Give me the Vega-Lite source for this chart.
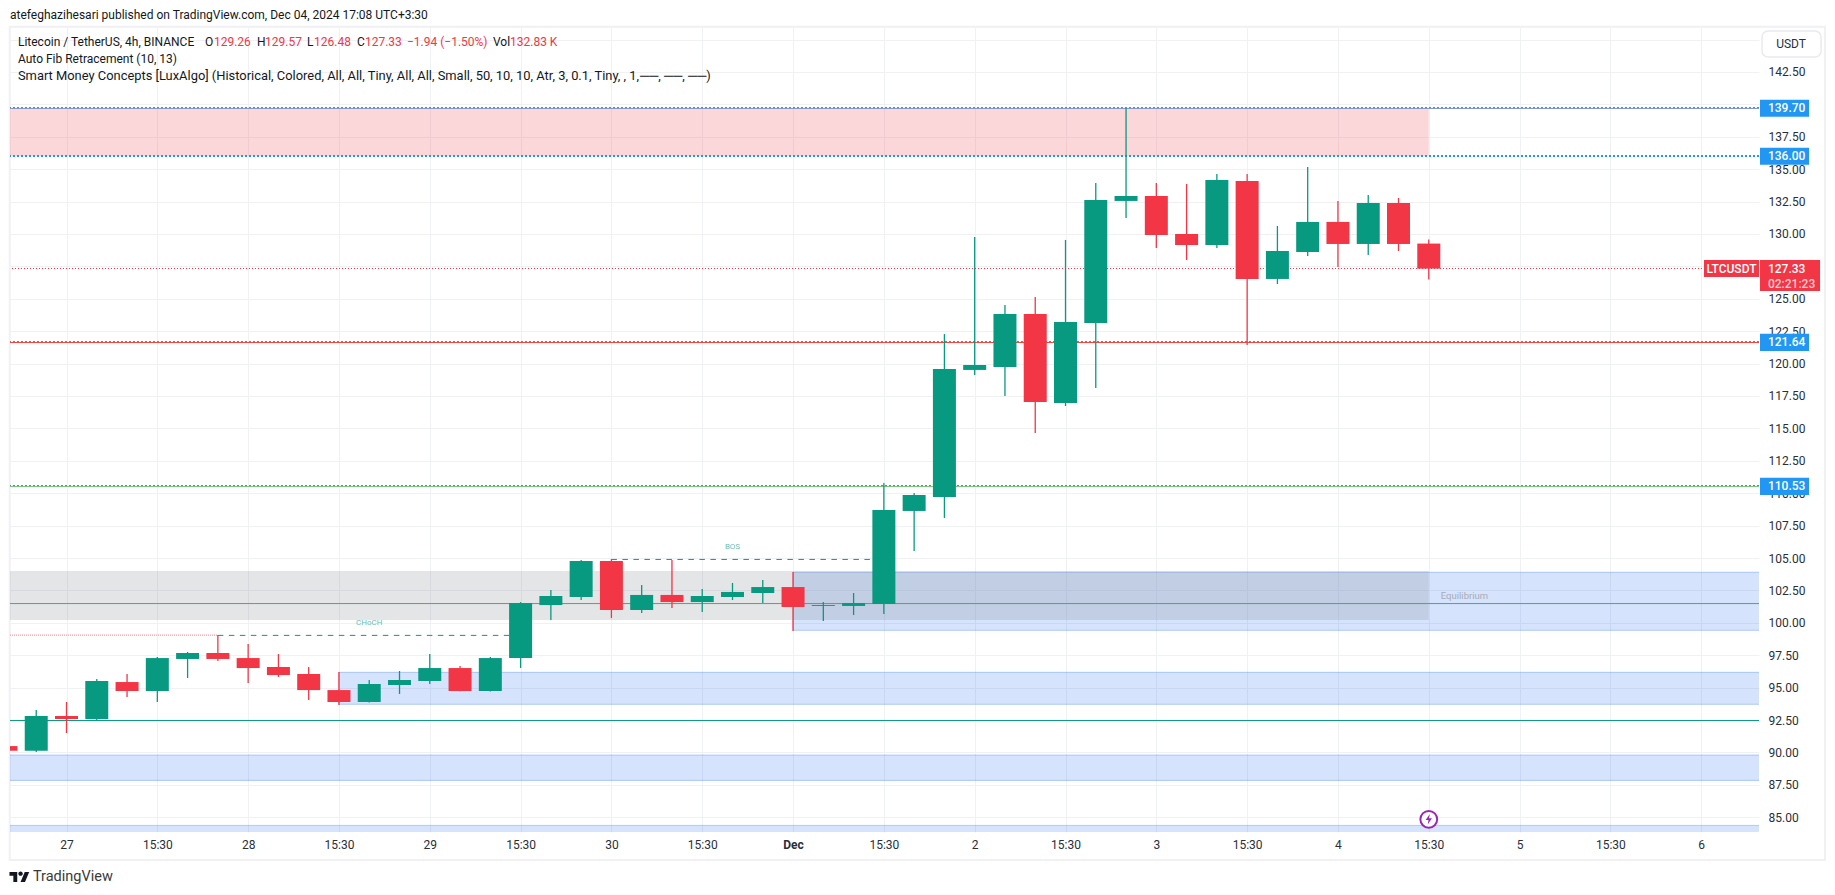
{
"$schema":"https://vega.github.io/schema/vega-lite/v6.json",
"width":1749,"height":805,
"autosize":"none",
"padding":{"left":10,"top":27,"right":76,"bottom":63},
"background":"white",
"view":{"stroke":null},
"config":{"font":"Roboto"},
"resolve":{"scale":{"fill":"independent","stroke":"independent"}},
"datasets":{
"candles":[
{"t":"2024-11-26T19:30:00Z","o":90.49,"h":90.6,"l":90.0,"c":90.13},
{"t":"2024-11-26T23:30:00Z","o":90.13,"h":93.27,"l":90.03,"c":92.81},
{"t":"2024-11-27T03:30:00Z","o":92.81,"h":93.89,"l":91.5,"c":92.58},
{"t":"2024-11-27T07:30:00Z","o":92.58,"h":95.66,"l":92.5,"c":95.51},
{"t":"2024-11-27T11:30:00Z","o":95.43,"h":96.05,"l":94.27,"c":94.74},
{"t":"2024-11-27T15:30:00Z","o":94.74,"h":97.36,"l":93.89,"c":97.28},
{"t":"2024-11-27T19:30:00Z","o":97.21,"h":97.75,"l":95.74,"c":97.67},
{"t":"2024-11-27T23:30:00Z","o":97.67,"h":99.06,"l":97.05,"c":97.21},
{"t":"2024-11-28T03:30:00Z","o":97.28,"h":98.36,"l":95.35,"c":96.51},
{"t":"2024-11-28T07:30:00Z","o":96.59,"h":97.59,"l":95.82,"c":95.97},
{"t":"2024-11-28T11:30:00Z","o":96.05,"h":96.59,"l":94.04,"c":94.81},
{"t":"2024-11-28T15:30:00Z","o":94.81,"h":96.2,"l":93.66,"c":93.89},
{"t":"2024-11-28T19:30:00Z","o":93.89,"h":95.59,"l":93.85,"c":95.28},
{"t":"2024-11-28T23:30:00Z","o":95.2,"h":96.28,"l":94.51,"c":95.59},
{"t":"2024-11-29T03:30:00Z","o":95.51,"h":97.59,"l":95.28,"c":96.51},
{"t":"2024-11-29T07:30:00Z","o":96.51,"h":96.67,"l":94.72,"c":94.74},
{"t":"2024-11-29T11:30:00Z","o":94.74,"h":97.36,"l":94.7,"c":97.28},
{"t":"2024-11-29T15:30:00Z","o":97.28,"h":101.6,"l":96.51,"c":101.53},
{"t":"2024-11-29T19:30:00Z","o":101.37,"h":102.53,"l":100.22,"c":102.07},
{"t":"2024-11-29T23:30:00Z","o":101.99,"h":104.85,"l":101.76,"c":104.77},
{"t":"2024-11-30T03:30:00Z","o":104.77,"h":104.92,"l":100.37,"c":100.99},
{"t":"2024-11-30T07:30:00Z","o":100.99,"h":102.92,"l":100.76,"c":102.15},
{"t":"2024-11-30T11:30:00Z","o":102.15,"h":104.85,"l":101.14,"c":101.6},
{"t":"2024-11-30T15:30:00Z","o":101.6,"h":102.61,"l":100.83,"c":102.07},
{"t":"2024-11-30T19:30:00Z","o":101.99,"h":103.07,"l":101.76,"c":102.38},
{"t":"2024-11-30T23:30:00Z","o":102.3,"h":103.3,"l":101.53,"c":102.76},
{"t":"2024-12-01T03:30:00Z","o":102.76,"h":103.92,"l":99.37,"c":101.22},
{"t":"2024-12-01T07:30:00Z","o":101.3,"h":101.6,"l":100.14,"c":101.37},
{"t":"2024-12-01T11:30:00Z","o":101.3,"h":102.3,"l":100.6,"c":101.53},
{"t":"2024-12-01T15:30:00Z","o":101.45,"h":110.79,"l":100.68,"c":108.7},
{"t":"2024-12-01T19:30:00Z","o":108.63,"h":110.02,"l":105.54,"c":109.86},
{"t":"2024-12-01T23:30:00Z","o":109.71,"h":122.28,"l":108.09,"c":119.58},
{"t":"2024-12-02T03:30:00Z","o":119.51,"h":129.77,"l":119.12,"c":119.89},
{"t":"2024-12-02T07:30:00Z","o":119.74,"h":124.52,"l":117.5,"c":123.83},
{"t":"2024-12-02T11:30:00Z","o":123.83,"h":125.14,"l":114.65,"c":117.04},
{"t":"2024-12-02T15:30:00Z","o":116.96,"h":129.54,"l":116.73,"c":123.21},
{"t":"2024-12-02T19:30:00Z","o":123.13,"h":133.94,"l":118.12,"c":132.62},
{"t":"2024-12-02T23:30:00Z","o":132.55,"h":139.7,"l":131.23,"c":132.93},
{"t":"2024-12-03T03:30:00Z","o":132.93,"h":133.94,"l":128.92,"c":129.92},
{"t":"2024-12-03T07:30:00Z","o":130.0,"h":133.86,"l":127.99,"c":129.15},
{"t":"2024-12-03T11:30:00Z","o":129.15,"h":134.63,"l":128.92,"c":134.17},
{"t":"2024-12-03T15:30:00Z","o":134.09,"h":134.63,"l":121.44,"c":126.53},
{"t":"2024-12-03T19:30:00Z","o":126.53,"h":130.62,"l":126.14,"c":128.69},
{"t":"2024-12-03T23:30:00Z","o":128.61,"h":135.17,"l":128.3,"c":130.93},
{"t":"2024-12-04T03:30:00Z","o":130.93,"h":132.55,"l":127.45,"c":129.23},
{"t":"2024-12-04T07:30:00Z","o":129.23,"h":133.01,"l":128.38,"c":132.39},
{"t":"2024-12-04T11:30:00Z","o":132.39,"h":132.78,"l":128.69,"c":129.23},
{"t":"2024-12-04T15:30:00Z","o":129.26,"h":129.57,"l":126.48,"c":127.33}
],
"blueZones":[
{"start":"2024-12-01T03:30:00Z","end":"2024-12-07T12:00:00Z","top":103.9,"bottom":99.42},
{"start":"2024-11-28T15:30:00Z","end":"2024-12-07T12:00:00Z","top":96.18,"bottom":93.71},
{"start":"2024-11-25T00:00:00Z","end":"2024-12-07T12:00:00Z","top":89.8,"bottom":87.84},
{"start":"2024-11-25T00:00:00Z","end":"2024-12-07T12:00:00Z","top":84.37,"bottom":83.0}
],
"otherZones":[
{"kind":"grey","start":"2024-11-25T00:00:00Z","end":"2024-12-04T15:30:00Z","top":104.0,"bottom":100.22},
{"kind":"red","start":"2024-11-25T00:00:00Z","end":"2024-12-04T15:30:00Z","top":139.7,"bottom":136.0}
],
"solid":[
{"level":139.7,"series":"high"},
{"level":121.64,"series":"mid"},
{"level":110.53,"series":"low"},
{"level":101.5,"series":"eq"},
{"level":92.48,"series":"base"}
],
"dotted":[{"level":139.7},{"level":121.64},{"level":110.53}],
"dashed":[
{"start":"2024-11-27T23:30:00Z","end":"2024-11-29T15:20:00Z","level":99.03},
{"start":"2024-11-30T03:30:00Z","end":"2024-12-01T14:00:00Z","level":104.89}
],
"priceTags":[
{"label":"139.70","tone":"blue","start":"2024-12-06T11:16:00Z","end":"2024-12-06T17:45:00Z","top":140.36,"bottom":139.04,"lx":"2024-12-06T12:19:00Z","level":139.7},
{"label":"136.00","tone":"blue","start":"2024-12-06T11:16:00Z","end":"2024-12-06T17:45:00Z","top":136.66,"bottom":135.34,"lx":"2024-12-06T12:19:00Z","level":136.0},
{"label":"121.64","tone":"blue","start":"2024-12-06T11:16:00Z","end":"2024-12-06T17:45:00Z","top":122.3,"bottom":120.98,"lx":"2024-12-06T12:19:00Z","level":121.64},
{"label":"110.53","tone":"blue","start":"2024-12-06T11:16:00Z","end":"2024-12-06T17:45:00Z","top":111.19,"bottom":109.87,"lx":"2024-12-06T12:19:00Z","level":110.53},
{"label":"127.33","tone":"red","start":"2024-12-06T11:16:00Z","end":"2024-12-06T19:12:00Z","top":128.0,"bottom":125.6,"lx":"2024-12-06T12:19:00Z","level":127.3}
],
"legendText":[
{"text":"atefeghazihesari published on TradingView.com, Dec 04, 2024 17:08 UTC+3:30","t":"2024-11-26T20:02:00Z","p":146.9,"tone":"dark"},
{"text":"Litecoin / TetherUS, 4h, BINANCE","t":"2024-11-26T21:05:00Z","p":144.81,"tone":"dark"},
{"text":"O","t":"2024-11-27T21:48:00Z","p":144.81,"tone":"dark"},
{"text":"129.26","t":"2024-11-27T22:59:00Z","p":144.81,"tone":"red"},
{"text":"H","t":"2024-11-28T04:40:00Z","p":144.81,"tone":"dark"},
{"text":"129.57","t":"2024-11-28T05:44:00Z","p":144.81,"tone":"red"},
{"text":"L","t":"2024-11-28T11:17:00Z","p":144.81,"tone":"dark"},
{"text":"126.48","t":"2024-11-28T12:12:00Z","p":144.81,"tone":"red"},
{"text":"C","t":"2024-11-28T17:53:00Z","p":144.81,"tone":"dark"},
{"text":"127.33","t":"2024-11-28T18:56:00Z","p":144.81,"tone":"red"},
{"text":"−1.94 (−1.50%)","t":"2024-11-29T00:29:00Z","p":144.81,"tone":"red"},
{"text":"Vol","t":"2024-11-29T11:51:00Z","p":144.81,"tone":"dark"},
{"text":"132.83 K","t":"2024-11-29T14:06:00Z","p":144.81,"tone":"red"},
{"text":"Auto Fib Retracement (10, 13)","t":"2024-11-26T21:05:00Z","p":143.5,"tone":"dark"}
],
"indicatorText":[
{"text":"Smart Money Concepts [LuxAlgo] (Historical, Colored, All, All, Tiny, All, All, Small, 50, 10, 10, Atr, 3, 0.1, Tiny, , 1,","t":"2024-11-26T21:05:00Z","p":142.19},
{"text":"──, ──, ──)","t":"2024-11-30T07:17:00Z","p":142.19}
],
"structure":[
{"text":"CHoCH","t":"2024-11-28T19:30:00Z","p":99.96},
{"text":"BOS","t":"2024-11-30T19:30:00Z","p":105.87}
]
},
"layer":[
{"data":{"values":[{"start":"2024-11-26T20:00:00Z","end":"2024-12-06T19:51:00Z","top":145.985,"bottom":81.7}]},
 "mark":{"type":"rect","fill":null,"stroke":"#F0F0F5","strokeWidth":2},
 "encoding":{"x":{"field":"start","type":"temporal","title":null},"x2":{"field":"end"},"y":{"field":"top","type":"quantitative","title":null},"y2":{"field":"bottom"}}},
{"data":{"values":[{"start":"2024-12-06T11:32:00Z","end":"2024-12-06T19:20:00Z","top":145.66,"bottom":143.66}]},
 "mark":{"type":"rect","fill":"white","stroke":"#E9EAF1","strokeWidth":1.5,"cornerRadius":6},
 "encoding":{"x":{"field":"start","type":"temporal","title":null},"x2":{"field":"end"},"y":{"field":"top","type":"quantitative","title":null},"y2":{"field":"bottom"}}},
{"data":{"name":"blueZones"},
 "mark":{"type":"rect","clip":true,"fill":"#226CEF","fillOpacity":0.19,"stroke":"#226CEF","strokeOpacity":0.3,"strokeWidth":1},
 "encoding":{"x":{"field":"start","type":"temporal","title":null},"x2":{"field":"end"},"y":{"field":"top","type":"quantitative","title":null},"y2":{"field":"bottom"}}},
{"data":{"name":"otherZones"},
 "mark":{"type":"rect","clip":true,"fillOpacity":0.2},
 "encoding":{"x":{"field":"start","type":"temporal","title":null},"x2":{"field":"end"},"y":{"field":"top","type":"quantitative","title":null},"y2":{"field":"bottom"},
  "fill":{"field":"kind","type":"nominal","legend":null,"scale":{"domain":["grey","red"],"range":["#787B86","#F23645"]}}}},
{"data":{"name":"solid"},
 "mark":{"type":"rule","strokeWidth":1,"yOffset":0.2},
 "encoding":{"y":{"field":"level","type":"quantitative","title":null},
  "stroke":{"field":"series","type":"nominal","legend":null,"scale":{"domain":["high","mid","low","eq","base"],"range":["#7E97C4","#F4433C","#7CC47F","#55A660","#089981"]}}}},
{"data":{"name":"dotted"},
 "mark":{"type":"rule","strokeWidth":1,"yOffset":-0.8,"strokeDash":[2,2],"stroke":"#2196F3"},
 "encoding":{"y":{"field":"level","type":"quantitative","title":null}}},
{"data":{"values":[{"level":136.0}]},
 "mark":{"type":"rule","strokeWidth":2,"yOffset":-0.2,"strokeDash":[2,2],"stroke":"#2196F3"},
 "encoding":{"y":{"field":"level","type":"quantitative","title":null}}},
{"data":{"values":[{"level":127.33}]},
 "mark":{"type":"rule","strokeWidth":1,"yOffset":-0.1,"strokeDash":[1,2],"stroke":"#F23645"},
 "encoding":{"y":{"field":"level","type":"quantitative","title":null}}},
{"data":{"name":"dashed"},
 "mark":{"type":"rule","strokeWidth":1,"strokeDash":[5.5,5.5],"stroke":"#089981"},
 "encoding":{"x":{"field":"start","type":"temporal","title":null},"x2":{"field":"end"},"y":{"field":"level","type":"quantitative","title":null}}},
{"data":{"values":[{"start":"2024-11-26T20:02:00Z","end":"2024-11-27T23:30:00Z","level":99.05}]},
 "mark":{"type":"rule","strokeWidth":1,"strokeDash":[1,1],"stroke":"#F23645","opacity":0.6},
 "encoding":{"x":{"field":"start","type":"temporal","title":null},"x2":{"field":"end"},"y":{"field":"level","type":"quantitative","title":null}}},
{"data":{"name":"candles"},
 "mark":{"type":"rule","strokeWidth":1.3,"clip":true},
 "encoding":{"x":{"field":"t","type":"temporal","title":null},"y":{"field":"h","type":"quantitative","title":null},"y2":{"field":"l"},
  "stroke":{"condition":{"test":"datum.c>=datum.o","value":"#089981"},"value":"#F23645"}}},
{"data":{"name":"candles"},
 "mark":{"type":"bar","size":23,"clip":true,"orient":"vertical"},
 "encoding":{
  "x":{"field":"t","type":"temporal","title":null,"scale":{"type":"utc","padding":0,"domain":["2024-11-26T20:02:00Z","2024-12-06T11:08:00Z"]},
   "axis":{"title":null,"orient":"bottom","domain":false,"ticks":false,"grid":true,"gridColor":"#F0F1F4","gridWidth":1,"labelPadding":7,"labelFontSize":12,"labelFont":"Roboto","labelColor":"#2A2E39","labelOverlap":false,"labelFlush":false,"labelBound":false,
    "labelFontWeight":{"condition":{"test":"utcdate(datum.value)==1 && utchours(datum.value)==3","value":"bold"},"value":"normal"},
    "labelExpr":"utchours(datum.value)==15 ? '15:30' : (utcdate(datum.value)==1 ? 'Dec' : ''+utcdate(datum.value))",
    "values":["2024-11-27T03:30:00Z","2024-11-27T15:30:00Z","2024-11-28T03:30:00Z","2024-11-28T15:30:00Z","2024-11-29T03:30:00Z","2024-11-29T15:30:00Z","2024-11-30T03:30:00Z","2024-11-30T15:30:00Z","2024-12-01T03:30:00Z","2024-12-01T15:30:00Z","2024-12-02T03:30:00Z","2024-12-02T15:30:00Z","2024-12-03T03:30:00Z","2024-12-03T15:30:00Z","2024-12-04T03:30:00Z","2024-12-04T15:30:00Z","2024-12-05T03:30:00Z","2024-12-05T15:30:00Z","2024-12-06T03:30:00Z"]}},
  "y":{"field":"o","type":"quantitative","title":null,"scale":{"domain":[83.86,145.97],"nice":false,"zero":false},
   "axis":{"title":null,"orient":"right","domain":false,"ticks":false,"grid":true,"gridColor":"#F0F1F4","gridWidth":1,"labelPadding":9,"labelFontSize":12,"labelFont":"Roboto","labelColor":"#2A2E39","labelOverlap":false,"labelFlush":false,"labelBound":false,"tickCount":25,
    "labelExpr":"datum.value==145 ? '' : format(datum.value,'.2f')",
    "values":[85,87.5,90,92.5,95,97.5,100,102.5,105,107.5,110,112.5,115,117.5,120,122.5,125,127.5,130,132.5,135,137.5,140,142.5,145]}},
  "y2":{"field":"c"},
  "fill":{"condition":{"test":"datum.c>=datum.o","value":"#089981"},"value":"#F23645"}}},
{"data":{"name":"priceTags"},
 "mark":{"type":"rect"},
 "encoding":{"x":{"field":"start","type":"temporal","title":null},"x2":{"field":"end"},"y":{"field":"top","type":"quantitative","title":null},"y2":{"field":"bottom"},
  "fill":{"field":"tone","type":"nominal","legend":null,"scale":{"domain":["blue","red"],"range":["#2196F3","#F23645"]}}}},
{"data":{"values":[{"start":"2024-12-06T03:52:00Z","end":"2024-12-06T11:08:00Z","top":128.0,"bottom":126.68}]},
 "mark":{"type":"rect","fill":"#F23645"},
 "encoding":{"x":{"field":"start","type":"temporal","title":null},"x2":{"field":"end"},"y":{"field":"top","type":"quantitative","title":null},"y2":{"field":"bottom"}}},
{"data":{"values":[{"label":"LTCUSDT","mid":"2024-12-06T07:30:00Z","level":127.33}]},
 "mark":{"type":"text","font":"Roboto","fontSize":12,"fontWeight":500,"fill":"white","align":"center","baseline":"middle"},
 "encoding":{"x":{"field":"mid","type":"temporal","title":null},"y":{"field":"level","type":"quantitative","title":null},"text":{"field":"label"}}},
{"data":{"name":"priceTags"},
 "mark":{"type":"text","font":"Roboto","fontSize":12,"fontWeight":500,"fill":"white","align":"left","baseline":"middle"},
 "encoding":{"x":{"field":"lx","type":"temporal","title":null},"y":{"field":"level","type":"quantitative","title":null},"text":{"field":"label"}}},
{"data":{"values":[{"label":"02:21:23","lx":"2024-12-06T12:19:00Z","level":126.17}]},
 "mark":{"type":"text","font":"Roboto","fontSize":12,"fontWeight":500,"fill":"white","fillOpacity":0.75,"align":"left","baseline":"middle"},
 "encoding":{"x":{"field":"lx","type":"temporal","title":null},"y":{"field":"level","type":"quantitative","title":null},"text":{"field":"label"}}},
{"data":{"values":[{"label":"USDT","mid":"2024-12-06T15:22:00Z","level":144.66}]},
 "mark":{"type":"text","font":"Roboto","fontSize":12,"fill":"#2A2E39","align":"center","baseline":"middle"},
 "encoding":{"x":{"field":"mid","type":"temporal","title":null},"y":{"field":"level","type":"quantitative","title":null},"text":{"field":"label"}}},
{"data":{"name":"legendText"},
 "mark":{"type":"text","font":"Roboto","fontSize":12,"align":"left","baseline":"middle"},
 "encoding":{"x":{"field":"t","type":"temporal","title":null},"y":{"field":"p","type":"quantitative","title":null},"text":{"field":"text"},
  "fill":{"field":"tone","type":"nominal","legend":null,"scale":{"domain":["dark","red"],"range":["#131722","#F23645"]}}}},
{"data":{"name":"indicatorText"},
 "mark":{"type":"text","font":"Roboto","fontSize":12.9,"fill":"#131722","align":"left","baseline":"middle"},
 "encoding":{"x":{"field":"t","type":"temporal","title":null},"y":{"field":"p","type":"quantitative","title":null},"text":{"field":"text"}}},
{"data":{"name":"structure"},
 "mark":{"type":"text","font":"Roboto","fontSize":8,"fill":"#089981","fillOpacity":0.65,"align":"center","baseline":"middle"},
 "encoding":{"x":{"field":"t","type":"temporal","title":null},"y":{"field":"p","type":"quantitative","title":null},"text":{"field":"text"}}},
{"data":{"values":[{"text":"Equilibrium","t":"2024-12-04T17:05:00Z","p":102.09}]},
 "mark":{"type":"text","font":"Roboto","fontSize":9.5,"fill":"#A8ABB5","align":"left","baseline":"middle"},
 "encoding":{"x":{"field":"t","type":"temporal","title":null},"y":{"field":"p","type":"quantitative","title":null},"text":{"field":"text"}}},
{"data":{"values":[{"text":"TradingView","t":"2024-11-26T23:04:00Z","p":80.39}]},
 "mark":{"type":"text","font":"Roboto","fontSize":14.5,"fill":"#3A3A3A","align":"left","baseline":"middle"},
 "encoding":{"x":{"field":"t","type":"temporal","title":null},"y":{"field":"p","type":"quantitative","title":null},"text":{"field":"text"}}},
{"data":{"values":[{"t":"2024-11-26T21:17:00Z","p":80.39}]},
 "mark":{"type":"point","filled":true,"fill":"#131722","opacity":1,"size":400,"shape":"M-.222,.5L-.611,.5L-.611,-.111L-1,-.111L-1,-.5L-.222,-.5ZM.556,.5L.111,.5L.528,-.5L.972,-.5ZM-.111,-.333a.222,.222 0 1,0 .444,0a.222,.222 0 1,0 -.444,0Z"},
 "encoding":{"x":{"field":"t","type":"temporal","title":null},"y":{"field":"p","type":"quantitative","title":null}}},
{"data":{"values":[{"t":"2024-12-04T15:30:00Z","p":84.84}]},
 "mark":{"type":"point","shape":"circle","size":283,"filled":true,"fill":"white","stroke":"#9C27B0","strokeWidth":2,"opacity":1},
 "encoding":{"x":{"field":"t","type":"temporal","title":null},"y":{"field":"p","type":"quantitative","title":null}}},
{"data":{"values":[{"t":"2024-12-04T15:30:00Z","p":84.84}]},
 "mark":{"type":"point","filled":true,"fill":"#9C27B0","opacity":1,"size":110,"shape":"M.2,-1L-.6,.15L-.05,.15L-.2,1L.6,-.2L.05,-.2Z"},
 "encoding":{"x":{"field":"t","type":"temporal","title":null},"y":{"field":"p","type":"quantitative","title":null}}}
]
}
